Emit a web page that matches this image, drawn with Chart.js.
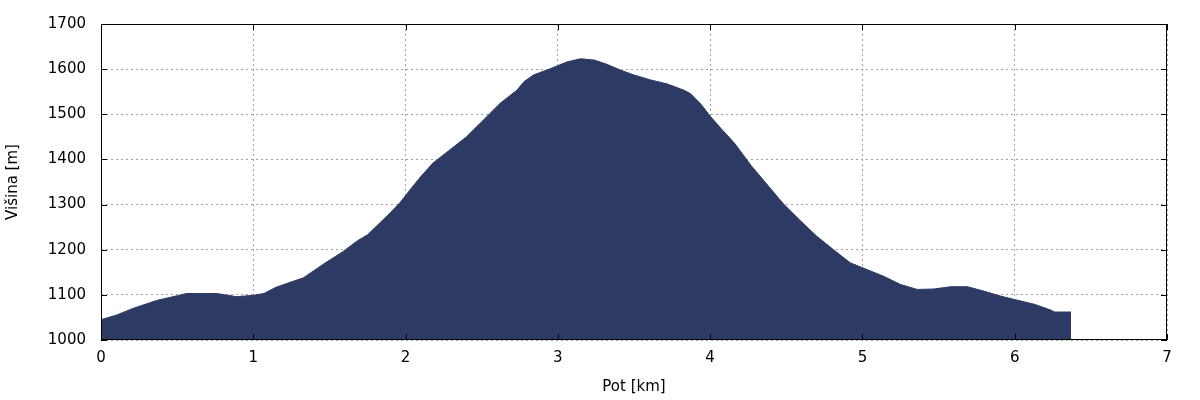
<!DOCTYPE html>
<html>
<head>
<meta charset="utf-8">
<script src="https://cdn.jsdelivr.net/npm/chart.js@4.4.0/dist/chart.umd.min.js"></script>
<style>
  html, body { margin: 0; padding: 0; background: #fff; font-family: 'DejaVu Sans', sans-serif; }
  #wrap { width: 1200px; height: 400px; }
</style>
</head>
<body>
<div id="wrap"><canvas id="profil"></canvas></div>
<script>
// razdalja [km] in visina [m], odcitano s slike
const razdalja = [0.00, 0.10, 0.21, 0.37, 0.50, 0.56, 0.76, 0.89, 1.00, 1.07, 1.15, 1.33, 1.46, 1.59, 1.68, 1.75, 1.83, 1.90,
  1.965, 2.03, 2.10, 2.18, 2.29, 2.40, 2.51, 2.62, 2.73, 2.78, 2.84, 2.95, 3.06, 3.15, 3.24, 3.32, 3.41, 3.50,
  3.61, 3.72, 3.83, 3.87, 3.94, 4.00, 4.07, 4.16, 4.27, 4.38, 4.48, 4.59, 4.70, 4.81, 4.92, 5.03, 5.14, 5.25,
  5.36, 5.47, 5.58, 5.69, 5.80, 5.91, 6.02, 6.13, 6.24, 6.26, 6.37];
const visina = [1045, 1055, 1070, 1088, 1098, 1103, 1103, 1096, 1099, 1103, 1117, 1138, 1168, 1196, 1219, 1233, 1259, 1282,
  1305, 1333, 1362, 1392, 1421, 1450, 1487, 1524, 1553, 1573, 1587, 1601, 1616, 1623, 1620, 1611, 1598, 1587,
  1576, 1567, 1553, 1546, 1522, 1496, 1469, 1436, 1386, 1342, 1302, 1265, 1230, 1200, 1171, 1156, 1141, 1123,
  1112, 1113, 1118, 1118, 1108, 1097, 1088, 1079, 1066, 1062, 1062];

const tocke = razdalja.map((x, i) => ({ x: x, y: visina[i] }));
const barva = 'rgb(44, 58, 100)';
const pisava = { family: "'DejaVu Sans', sans-serif", size: 15 };

// okvir in kratke crtice na vseh stirih straneh (kot gnuplot)
const okvir = {
  id: 'okvir',
  afterDraw(chart) {
    const { ctx, chartArea: a, scales } = chart;
    ctx.save();
    ctx.strokeStyle = '#000';
    ctx.lineWidth = 1;
    ctx.strokeRect(a.left + 0.5, a.top + 0.5, a.right - a.left - 1, a.bottom - a.top - 1);
    ctx.beginPath();
    scales.x.ticks.forEach(t => {
      const px = Math.round(scales.x.getPixelForValue(t.value)) + 0.5;
      ctx.moveTo(px, a.bottom); ctx.lineTo(px, a.bottom - 6);
      ctx.moveTo(px, a.top); ctx.lineTo(px, a.top + 6);
    });
    scales.y.ticks.forEach(t => {
      const py = Math.round(scales.y.getPixelForValue(t.value)) + 0.5;
      ctx.moveTo(a.left, py); ctx.lineTo(a.left + 6, py);
      ctx.moveTo(a.right, py); ctx.lineTo(a.right - 6, py);
    });
    ctx.stroke();
    ctx.restore();
  }
};

function narisi() {
  const ctx = document.getElementById('profil').getContext('2d');
  return new Chart(ctx, {
    type: 'line',
    data: {
      datasets: [{
        label: 'Višina',
        data: tocke,
        borderColor: barva,
        backgroundColor: barva,
        borderWidth: 1,
        pointRadius: 0,
        fill: 'start',
        tension: 0
      }]
    },
    options: {
      responsive: true,
      maintainAspectRatio: false,
      animation: false,
      layout: { padding: { left: 0, right: 33, top: 20, bottom: 0 } },
      plugins: { legend: { display: false }, tooltip: { enabled: false } },
      scales: {
        x: {
          type: 'linear',
          min: 0, max: 7,
          ticks: { stepSize: 1, color: '#000', padding: 9, font: pisava, callback: v => String(v) },
          grid: { color: '#a0a0a0', drawTicks: false, tickLength: 0 },
          border: { display: false, dash: [2, 3] },
          title: { display: true, text: 'Pot [km]', color: '#000', font: pisava, padding: { top: 6 } },
          afterFit(s) { s.height = 60; }
        },
        y: {
          min: 1000, max: 1700,
          ticks: { stepSize: 100, color: '#000', padding: 15, font: pisava, callback: v => String(v) },
          grid: { color: '#a0a0a0', drawTicks: false, tickLength: 0 },
          border: { display: false, dash: [2, 3] },
          title: { display: true, text: 'Višina [m]', color: '#000', font: pisava, padding: { top: 4 } },
          afterFit(s) { s.width = 101; }
        }
      }
    },
    plugins: [okvir]
  });
}

document.fonts.load("15px 'DejaVu Sans'").then(narisi, narisi);
</script>
</body>
</html>
